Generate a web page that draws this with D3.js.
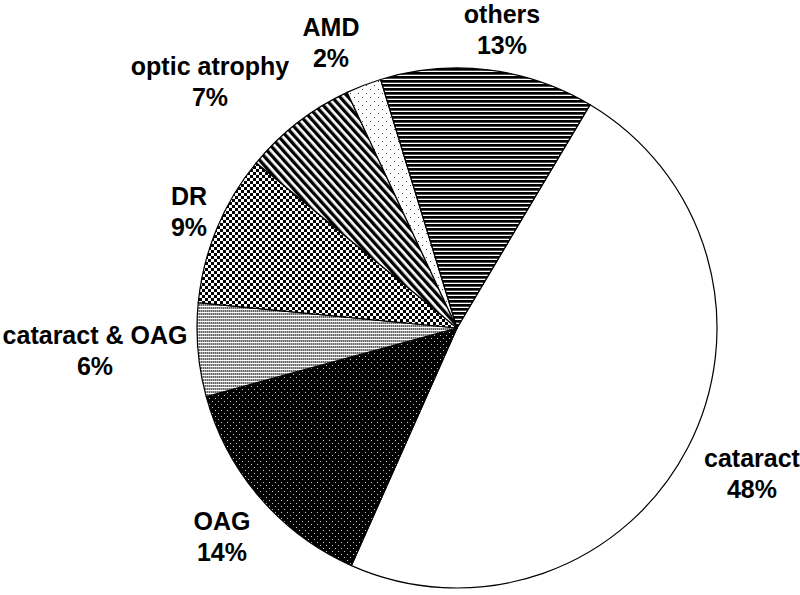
<!DOCTYPE html>
<html>
<head>
<meta charset="utf-8">
<script src="https://cdn.jsdelivr.net/npm/d3@7"></script>
<style>
  body { margin: 0; background: #fff; }
  .lbl { font-family: "Liberation Sans", Arial, sans-serif; font-weight: bold; font-size: 25px; fill: #000; }
</style>
</head>
<body>
<div id="chart"></div>
<script>
// data (clockwise from the cataract slice)
var categories = ["cataract", "OAG", "cataract & OAG", "DR", "optic atrophy", "AMD", "others"];
var values = [48.1, 14.1, 5.8, 9.4, 7.1, 2.2, 13.3];
var pctLabels = ["48%", "14%", "6%", "9%", "7%", "2%", "13%"];

// fill pattern per slice
var patternIds = ["white", "darkDots", "lightGrid", "checker", "diagStripes", "sparseDots", "hStripes"];

// label placement (centre x, first baseline y)
var labelPos = [[752, 467], [222, 530], [95, 344], [189, 205], [210, 75], [331, 36], [502, 23]];

var width = 800;
var height = 595;
var cx = 457;
var cy = 328;
var radius = 260;
var lineGap = 31;

var svg = d3.select("#chart")
  .append("svg")
  .attr("width", width)
  .attr("height", height);

var defs = svg.append("defs");

// dark: black with small light dots
var p = defs.append("pattern").attr("id", "darkDots")
  .attr("patternUnits", "userSpaceOnUse").attr("width", 6).attr("height", 6);
p.append("rect").attr("width", 6).attr("height", 6).attr("fill", "#000");
p.append("rect").attr("x", 1).attr("y", 1).attr("width", 1).attr("height", 1).attr("fill", "#ccc");
p.append("rect").attr("x", 4).attr("y", 4).attr("width", 1).attr("height", 1).attr("fill", "#ccc");

// light grey fine grid
p = defs.append("pattern").attr("id", "lightGrid")
  .attr("patternUnits", "userSpaceOnUse").attr("width", 4).attr("height", 3);
p.append("rect").attr("width", 4).attr("height", 3).attr("fill", "#fff");
p.append("rect").attr("x", 0).attr("y", 0).attr("width", 4).attr("height", 2).attr("fill", "#aaa");
p.append("rect").attr("x", 0).attr("y", 0).attr("width", 1).attr("height", 2).attr("fill", "#666");
p.append("rect").attr("x", 2).attr("y", 0).attr("width", 1).attr("height", 2).attr("fill", "#666");

// checkerboard
p = defs.append("pattern").attr("id", "checker")
  .attr("patternUnits", "userSpaceOnUse").attr("width", 6).attr("height", 6);
p.append("rect").attr("width", 6).attr("height", 6).attr("fill", "#fff");
p.append("rect").attr("x", 0).attr("y", 0).attr("width", 3).attr("height", 3).attr("fill", "#000");
p.append("rect").attr("x", 3).attr("y", 3).attr("width", 3).attr("height", 3).attr("fill", "#000");

// diagonal stripes (down to the right)
p = defs.append("pattern").attr("id", "diagStripes")
  .attr("patternUnits", "userSpaceOnUse").attr("width", 6).attr("height", 6)
  .attr("patternTransform", "rotate(-42)");
p.append("rect").attr("width", 6).attr("height", 6).attr("fill", "#fff");
p.append("rect").attr("width", 3.3).attr("height", 6).attr("fill", "#000");

// sparse dots on white
p = defs.append("pattern").attr("id", "sparseDots")
  .attr("patternUnits", "userSpaceOnUse").attr("width", 8).attr("height", 8);
p.append("rect").attr("width", 8).attr("height", 8).attr("fill", "#fff");
p.append("rect").attr("x", 1).attr("y", 1).attr("width", 1).attr("height", 1).attr("fill", "#444");
p.append("rect").attr("x", 5).attr("y", 5).attr("width", 1).attr("height", 1).attr("fill", "#444");

// horizontal stripes
p = defs.append("pattern").attr("id", "hStripes")
  .attr("patternUnits", "userSpaceOnUse").attr("width", 4).attr("height", 4);
p.append("rect").attr("width", 4).attr("height", 4).attr("fill", "#fff");
p.append("rect").attr("width", 4).attr("height", 2.7).attr("fill", "#000");

var pie = d3.pie()
  .sort(null)
  .startAngle(30.8 * Math.PI / 180)
  .endAngle(30.8 * Math.PI / 180 + 2 * Math.PI);

var arc = d3.arc().innerRadius(0).outerRadius(radius);

var slices = pie(values);

var g = svg.append("g").attr("transform", "translate(" + cx + "," + cy + ")");

g.selectAll("path.slice")
  .data(slices)
  .enter()
  .append("path")
  .attr("class", "slice")
  .attr("d", arc)
  .attr("fill", function(d, i) {
    return patternIds[i] === "white" ? "#fff" : "url(#" + patternIds[i] + ")";
  })
  .attr("stroke", "#000")
  .attr("stroke-width", 1.2)
  .attr("stroke-linejoin", "round");

// labels: name on first line, percentage below
var labels = svg.selectAll("text.lbl")
  .data(categories)
  .enter()
  .append("text")
  .attr("class", "lbl")
  .attr("text-anchor", "middle");

labels.append("tspan")
  .attr("x", function(d, i) { return labelPos[i][0]; })
  .attr("y", function(d, i) { return labelPos[i][1]; })
  .text(function(d) { return d; });

labels.append("tspan")
  .attr("x", function(d, i) { return labelPos[i][0]; })
  .attr("y", function(d, i) { return labelPos[i][1] + lineGap; })
  .text(function(d, i) { return pctLabels[i]; });
</script>
</body>
</html>
